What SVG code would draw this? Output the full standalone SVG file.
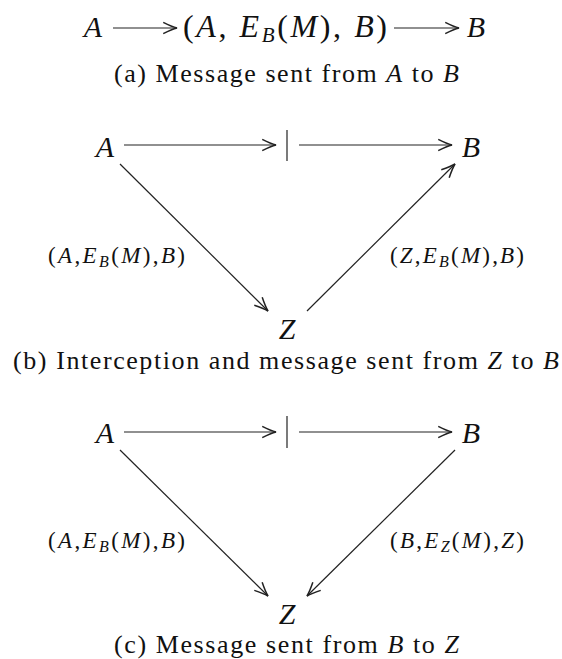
<svg xmlns="http://www.w3.org/2000/svg" width="562" height="659" viewBox="0 0 562 659">
<defs>
<style>
.m{font-family:"Liberation Serif","DejaVu Serif",serif;font-style:italic;fill:#111}
.t{font-family:"Liberation Serif","DejaVu Serif",serif;fill:#111}
.i{font-style:italic}
.big{font-size:30px}
.top{font-size:32px}
.lab{font-size:23px}
.sb{font-size:21px}
.ssb{font-size:16px}
.cap{font-size:26px}
.e{stroke:#222;stroke-width:1.2;fill:none}
.ea{stroke:#222;stroke-width:1.2;fill:none;marker-end:url(#ah)}
</style>
<marker id="ah" markerUnits="userSpaceOnUse" markerWidth="20" markerHeight="20" viewBox="-14 -8 16 16" refX="0" refY="0" orient="auto">
<path d="M-11,-4.5 Q-4,-1 0,0 Q-4,1 -11,4.5" stroke="#222" stroke-width="1.2" fill="none"/>
</marker>
</defs>

<!-- Panel (a) -->
<g id="a-nodeA"><text class="m big" x="93" y="37" text-anchor="middle">A</text></g>
<g id="a-msg">
<text class="t top" x="183" y="37" textLength="204" lengthAdjust="spacing">(<tspan class="i">A</tspan>, <tspan class="i">E</tspan><tspan class="i sb" dy="5">B</tspan><tspan dy="-5">(</tspan><tspan class="i">M</tspan>), <tspan class="i">B</tspan>)</text>
</g>
<g id="a-nodeB"><text class="m big" x="476" y="37" text-anchor="middle">B</text></g>
<g id="a-edges">
<line class="ea" x1="113" y1="28" x2="177" y2="28"/>
<line class="ea" x1="394" y1="28" x2="459" y2="28"/>
</g>
<text class="t cap" x="114" y="82" textLength="345" lengthAdjust="spacing">(a) Message sent from <tspan class="i">A</tspan> to <tspan class="i">B</tspan></text>

<!-- Panel (b) -->
<g id="b-nodeA"><text class="m big" x="105" y="157" text-anchor="middle">A</text></g>
<g id="b-nodeB"><text class="m big" x="471" y="157" text-anchor="middle">B</text></g>
<g id="b-nodeZ"><text class="m big" x="287" y="339" text-anchor="middle">Z</text></g>
<g id="b-bar"><line class="e" x1="287" y1="130" x2="287" y2="161" stroke-width="1.4"/></g>
<g id="b-edges">
<line class="ea" x1="124" y1="145" x2="276" y2="145"/>
<line class="ea" x1="299" y1="145" x2="452" y2="145"/>
<line class="ea" x1="120" y1="164" x2="268" y2="311"/>
<line class="ea" x1="307" y1="311" x2="455" y2="164"/>
</g>
<g id="b-labL">
<text class="t lab" x="48" y="263" textLength="137" lengthAdjust="spacing">(<tspan class="i">A</tspan>,<tspan class="i">E</tspan><tspan class="i ssb" dy="4">B</tspan><tspan dy="-4">(</tspan><tspan class="i">M</tspan>),<tspan class="i">B</tspan>)</text>
</g>
<g id="b-labR">
<text class="t lab" x="390" y="263" textLength="134" lengthAdjust="spacing">(<tspan class="i">Z</tspan>,<tspan class="i">E</tspan><tspan class="i ssb" dy="4">B</tspan><tspan dy="-4">(</tspan><tspan class="i">M</tspan>),<tspan class="i">B</tspan>)</text>
</g>
<text class="t cap" x="13" y="369" textLength="546" lengthAdjust="spacing">(b) Interception and message sent from <tspan class="i">Z</tspan> to <tspan class="i">B</tspan></text>

<!-- Panel (c) -->
<g id="c-nodeA"><text class="m big" x="105" y="443" text-anchor="middle">A</text></g>
<g id="c-nodeB"><text class="m big" x="471" y="443" text-anchor="middle">B</text></g>
<g id="c-nodeZ"><text class="m big" x="287" y="624" text-anchor="middle">Z</text></g>
<g id="c-bar"><line class="e" x1="287" y1="416" x2="287" y2="448" stroke-width="1.4"/></g>
<g id="c-edges">
<line class="ea" x1="124" y1="432" x2="276" y2="432"/>
<line class="ea" x1="299" y1="432" x2="452" y2="432"/>
<line class="ea" x1="120" y1="450" x2="268" y2="596"/>
<line class="ea" x1="455" y1="450" x2="307" y2="596"/>
</g>
<g id="c-labL">
<text class="t lab" x="48" y="548" textLength="137" lengthAdjust="spacing">(<tspan class="i">A</tspan>,<tspan class="i">E</tspan><tspan class="i ssb" dy="4">B</tspan><tspan dy="-4">(</tspan><tspan class="i">M</tspan>),<tspan class="i">B</tspan>)</text>
</g>
<g id="c-labR">
<text class="t lab" x="390" y="548" textLength="134" lengthAdjust="spacing">(<tspan class="i">B</tspan>,<tspan class="i">E</tspan><tspan class="i ssb" dy="4">Z</tspan><tspan dy="-4">(</tspan><tspan class="i">M</tspan>),<tspan class="i">Z</tspan>)</text>
</g>
<text class="t cap" x="114" y="653" textLength="345" lengthAdjust="spacing">(c) Message sent from <tspan class="i">B</tspan> to <tspan class="i">Z</tspan></text>
</svg>
